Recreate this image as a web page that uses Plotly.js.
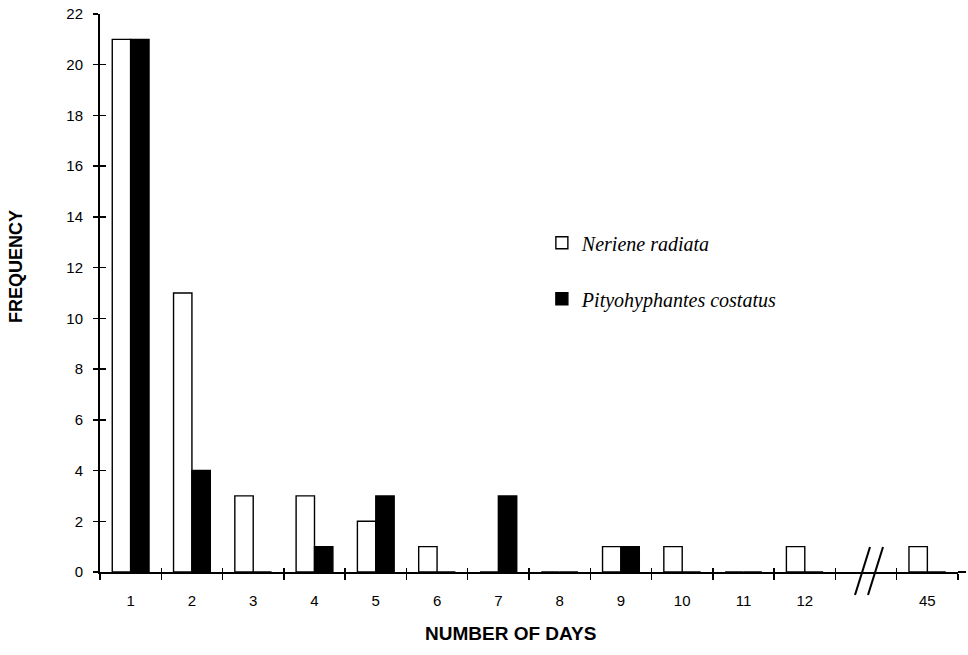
<!DOCTYPE html>
<html>
<head>
<meta charset="utf-8">
<script src="https://cdn.plot.ly/plotly-3.0.1.min.js"></script>
<style>html,body{margin:0;padding:0;background:#fff;}#chart{width:968px;height:655px;}</style>
</head>
<body>
<div id="chart"></div>
<script>
var days = ['1','2','3','4','5','6','7','8','9','10','11','12',' ','45'];
var nerieneRadiata = [21, 11, 3, 3, 2, 1, 0, 0, 1, 1, 0, 1, null, 1];
var pityohyphantesCostatus = [21, 4, 0, 1, 3, 0, 3, 0, 1, 0, 0, 0, null, 0];
var seriesNames = ['<i>Neriene radiata</i>', '<i>Pityohyphantes costatus</i>'];
var yTicks = [0,2,4,6,8,10,12,14,16,18,20,22];

var traces = [
  {type:'bar', x:days, y:nerieneRadiata, name:seriesNames[0], legendgroup:'a',
   marker:{color:'#ffffff', line:{color:'#000', width:1.4}}},
  {type:'bar', x:days, y:pityohyphantesCostatus, name:seriesNames[1], legendgroup:'b',
   marker:{color:'#000000', line:{color:'#000', width:1.4}}},
  {type:'scatter', mode:'markers', x:days, y:days.map(function(){return null;}), xaxis:'x2', yaxis:'y2',
   showlegend:false, hoverinfo:'skip'}
];

var layout = {
  width:968, height:655,
  margin:{l:100, r:10, t:14, b:83},
  paper_bgcolor:'#fff', plot_bgcolor:'#fff',
  font:{family:'Liberation Sans, Arial, sans-serif', size:15, color:'#000'},
  barmode:'group', bargap:0.4, bargroupgap:0,
  showlegend:true,
  legend:{x:0.515, y:0.625, xanchor:'left', yanchor:'top', traceorder:'grouped', tracegroupgap:27,
          font:{family:'Liberation Serif, Times New Roman, serif', size:20, color:'#000'},
          bgcolor:'rgba(0,0,0,0)', itemwidth:30},
  xaxis:{type:'category', categoryorder:'array', categoryarray:days, range:[-0.5,13.5],
         showline:true, linecolor:'#000', linewidth:2, showgrid:false, zeroline:false,
         ticks:'outside', ticklen:6, tickwidth:1.5, tickcolor:'#000', tickson:'boundaries',
         ticklabelstandoff:14, tickfont:{size:15}, fixedrange:true},
  xaxis2:{type:'category', categoryorder:'array', categoryarray:days, range:[-0.5,13.5],
          overlaying:'x', showline:false, showgrid:false, zeroline:false,
          ticks:'inside', ticklen:4, tickwidth:1.5, tickcolor:'#000', tickson:'boundaries',
          showticklabels:false, side:'bottom'},
  yaxis:{range:[0,22], tickvals:yTicks, showline:true, linecolor:'#000', linewidth:2,
         showgrid:false, zeroline:false, ticks:'outside', ticklen:5, tickwidth:1.5, tickcolor:'#000',
         ticklabelstandoff:7, tickfont:{size:15}, fixedrange:true},
  yaxis2:{range:[0,22], tickvals:yTicks, overlaying:'y', showline:false, showgrid:false,
          zeroline:false, ticks:'inside', ticklen:6, tickwidth:1.5, tickcolor:'#000', showticklabels:false},
  annotations:[
    {text:'<b>NUMBER OF DAYS</b>', xref:'paper', yref:'paper', x:(510-100)/858, y:(572-633)/558,
     xanchor:'center', yanchor:'middle', showarrow:false, font:{size:19, color:'#000'}},
    {text:'<b>FREQUENCY</b>', xref:'paper', yref:'paper', x:(16-100)/858, y:(572-267)/558,
     xanchor:'center', yanchor:'middle', textangle:-90, showarrow:false, font:{size:18, color:'#000'}}
  ],
  shapes:[
    {type:'line', xref:'paper', yref:'paper', x0:(855-100)/858, y0:(572-595)/558, x1:(870-100)/858, y1:(572-547)/558, line:{color:'#000', width:2}},
    {type:'line', xref:'paper', yref:'paper', x0:(868-100)/858, y0:(572-595)/558, x1:(883-100)/858, y1:(572-547)/558, line:{color:'#000', width:2}},
    {type:'line', xref:'paper', yref:'paper', x0:1, y0:0, x1:(966-100)/858, y1:0, line:{color:'#000', width:2}}
  ]
};

Plotly.newPlot('chart', traces, layout, {displayModeBar:false, staticPlot:true});
</script>
</body>
</html>
